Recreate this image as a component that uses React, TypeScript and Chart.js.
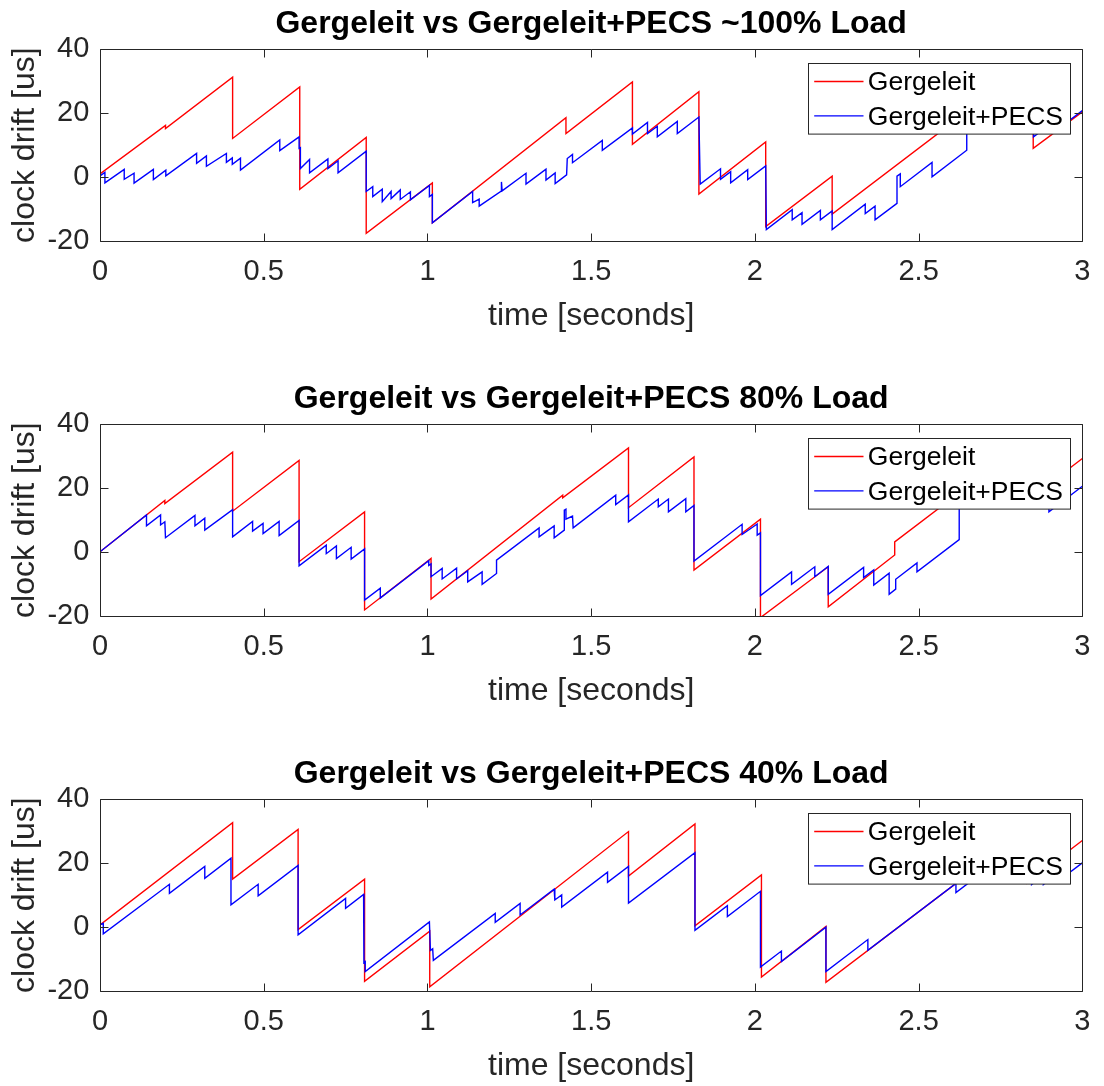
import React, { useEffect, useRef } from 'react';
import { Chart, registerables } from 'chart.js';

Chart.register(...registerables);

const FONT = '"Liberation Sans", Arial, Helvetica, sans-serif';
const AXIS_COLOR = '#262626';
Chart.defaults.font.family = FONT;

// ---- tick labels / texts ----
const xTicks = [0, 0.5, 1, 1.5, 2, 2.5, 3];
const yTicks = [-20, 0, 20, 40];
const seriesNames = ['Gergeleit', 'Gergeleit+PECS'];
const seriesColors = ['#ff0000', '#0000ff'];
const panelTitles = [
  'Gergeleit vs Gergeleit+PECS ~100% Load',
  'Gergeleit vs Gergeleit+PECS 80% Load',
  'Gergeleit vs Gergeleit+PECS 40% Load',
];
const xAxisTitle = 'time [seconds]';
const yAxisTitle = 'clock drift [us]';

// ---- ~100% load ----
const load100RedX = [0, 0.2, 0.2, 0.405, 0.405, 0.61, 0.61, 0.813, 0.813, 1.015, 1.015, 1.423, 1.423, 1.626, 1.626, 1.829, 1.829, 2.033, 2.033, 2.236, 2.236, 2.64, 2.64, 2.85, 2.85, 3.0];
const load100RedY = [1.0, 16.2, 15.2, 31.3, 12.1, 28.2, -3.8, 12.4, -17.6, -1.8, -14.3, 18.6, 13.6, 29.8, 10.3, 26.7, -5.3, 11.0, -15.5, 0.3, -11.6, 19.9, 16.9, 33.3, 9.0, 20.4];
const load100BlueX = [0, 0.015, 0.015, 0.074, 0.074, 0.104, 0.104, 0.163, 0.163, 0.201, 0.201, 0.295, 0.295, 0.325, 0.325, 0.386, 0.386, 0.404, 0.404, 0.429, 0.429, 0.549, 0.549, 0.608, 0.608, 0.612, 0.612, 0.64, 0.64, 0.696, 0.696, 0.727, 0.727, 0.813, 0.813, 0.833, 0.833, 0.862, 0.862, 0.889, 0.889, 0.917, 0.917, 0.948, 0.948, 1.006, 1.006, 1.015, 1.015, 1.138, 1.138, 1.158, 1.158, 1.225, 1.226, 1.228, 1.301, 1.301, 1.362, 1.362, 1.39, 1.39, 1.425, 1.427, 1.443, 1.443, 1.534, 1.534, 1.626, 1.626, 1.672, 1.672, 1.702, 1.702, 1.763, 1.763, 1.829, 1.833, 1.895, 1.895, 1.926, 1.926, 1.978, 1.978, 2.033, 2.035, 2.114, 2.114, 2.144, 2.144, 2.2, 2.2, 2.236, 2.236, 2.337, 2.337, 2.367, 2.367, 2.434, 2.434, 2.444, 2.444, 2.541, 2.541, 2.647, 2.647, 2.75, 2.75, 2.851, 2.851, 2.92, 2.92, 3.0];
const load100BlueY = [0.4, 1.5, -1.8, 2.4, -0.7, 1.2, -1.9, 2.4, -0.8, 2.2, 0.4, 7.4, 4.3, 6.6, 3.4, 7.4, 4.6, 6.0, 4.0, 5.9, 2.2, 11.6, 8.3, 12.6, 9.0, 9.2, 2.7, 5.5, 1.35, 5.7, 2.7, 5.1, 1.35, 8.1, -4.5, -3.0, -6.1, -3.8, -7.7, -4.5, -6.7, -4.0, -7.0, -4.6, -7.1, -2.6, -6.1, -5.4, -14.3, -4.5, -8.0, -6.9, -9.1, -4.4, -1.5, -4.3, 1.2, -2.2, 2.5, -0.9, 1.3, -2.0, 0.7, 5.8, 7.1, 4.5, 11.5, 8.4, 15.4, 13.5, 17.1, 13.6, 15.9, 12.6, 17.4, 13.6, 18.8, -2.2, 2.6, -0.7, 1.7, -1.8, 2.3, -0.8, 3.5, -16.4, -10.2, -13.4, -11.1, -14.8, -10.4, -13.4, -10.6, -16.4, -8.5, -11.4, -9.1, -13.4, -8.2, 0.3, 1.0, -3.0, 4.6, 0.1, 8.4, 17, 25.0, 14.5, 22.4, 12.6, 18.0, 14.6, 20.8];

// ---- 80% load ----
const load80RedX = [0, 0.198, 0.198, 0.405, 0.405, 0.608, 0.608, 0.808, 0.808, 1.011, 1.011, 1.413, 1.413, 1.614, 1.614, 1.814, 1.814, 2.017, 2.017, 2.224, 2.224, 2.427, 2.427, 2.83, 2.83, 3.0];
const load80RedY = [0.1, 16.2, 15.2, 31.3, 12.8, 28.7, -3.0, 12.6, -18.1, -2.0, -14.7, 17.8, 17.0, 32.6, 13.9, 29.8, -5.6, 10.3, -20.5, -4.6, -17.1, -0.9, 3.2, 34.6, 16.0, 29.3];
const load80BlueX = [0, 0.142, 0.142, 0.185, 0.185, 0.198, 0.2, 0.29, 0.29, 0.32, 0.32, 0.405, 0.405, 0.466, 0.466, 0.498, 0.498, 0.547, 0.547, 0.608, 0.608, 0.691, 0.691, 0.722, 0.722, 0.767, 0.767, 0.808, 0.808, 0.856, 0.856, 1.004, 1.004, 1.011, 1.011, 1.045, 1.045, 1.089, 1.089, 1.123, 1.123, 1.167, 1.167, 1.211, 1.211, 1.341, 1.341, 1.387, 1.387, 1.418, 1.418, 1.423, 1.423, 1.443, 1.445, 1.575, 1.575, 1.614, 1.614, 1.705, 1.705, 1.736, 1.736, 1.789, 1.789, 1.814, 1.814, 1.961, 1.961, 2.007, 2.007, 2.017, 2.017, 2.112, 2.112, 2.183, 2.183, 2.224, 2.224, 2.332, 2.332, 2.363, 2.363, 2.41, 2.41, 2.43, 2.43, 2.495, 2.495, 2.624, 2.624, 2.76, 2.76, 2.898, 2.898, 3.0];
const load80BlueY = [0.1, 11.6, 8.2, 11.6, 8.5, 9.5, 4.5, 11.5, 8.2, 10.6, 6.9, 13.3, 4.8, 9.6, 6.6, 9.0, 5.8, 9.6, 5.2, 9.9, -4.3, 2.2, -0.5, 1.9, -2.0, 1.5, -2.2, 1.0, -15.0, -11.3, -14.4, -2.7, -4.2, -3.7, -7.7, -5.1, -8.4, -5.0, -8.4, -5.8, -9.3, -6.2, -10.1, -6.7, -2.5, 7.6, 4.8, 8.2, 4.5, 6.9, 13.1, 13.4, 10.3, 11.3, 7.6, 17.8, 14.9, 17.9, 9.5, 16.6, 14.2, 16.6, 12.6, 16.7, 12.6, 14.6, -2.8, 8.7, 5.5, 8.8, 5.3, 6.0, -13.6, -6.2, -10.1, -4.6, -7.7, -4.5, -13.2, -4.8, -8.0, -5.6, -10.3, -6.6, -13.2, -11.6, -8.5, -3.4, -6.2, 3.9, 16.0, 26.6, 15.0, 25.8, 12.6, 20.6];

// ---- 40% load ----
const load40RedX = [0, 0.405, 0.405, 0.605, 0.605, 0.808, 0.808, 1.007, 1.007, 1.614, 1.614, 1.817, 1.817, 2.02, 2.02, 2.217, 2.217, 2.83, 2.83, 3.0];
const load40RedY = [0.7, 32.7, 15.0, 30.6, -0.8, 15.0, -17.0, -1.3, -18.7, 29.9, 16.0, 32.3, 0.4, 16.3, -15.6, 0.2, -17.3, 30.5, 13.8, 27.1];
const load40BlueX = [0, 0.01, 0.01, 0.212, 0.212, 0.32, 0.32, 0.4, 0.4, 0.483, 0.483, 0.605, 0.605, 0.75, 0.75, 0.805, 0.806, 0.81, 0.81, 1.006, 1.009, 1.016, 1.018, 1.207, 1.207, 1.283, 1.283, 1.387, 1.389, 1.41, 1.41, 1.55, 1.55, 1.614, 1.614, 1.817, 1.817, 1.916, 1.916, 2.017, 2.017, 2.081, 2.081, 2.217, 2.217, 2.345, 2.345, 2.614, 2.614, 2.75, 2.75, 2.845, 2.845, 2.881, 2.881, 2.92, 2.92, 3.0];
const load40BlueY = [0.7, 1.2, -2.1, 13.4, 10.6, 19.0, 15.3, 21.6, 7.0, 13.4, 9.8, 19.3, -2.4, 9.0, 5.9, 10.2, -11.1, -10.8, -13.9, 1.6, -7.3, -6.8, -10.4, 4.3, 1.5, 7.4, 3.8, 11.9, 8.5, 10.1, 6.25, 17.2, 14.0, 19.0, 7.5, 23.3, -1.0, 6.7, 3.3, 11.2, -12.5, -7.5, -10.8, 0.0, -13.9, -3.9, -7.3, 13.7, 10.8, 21.4, 14.0, 21.4, 13.3, 16.1, 13.3, 16.3, 13.9, 20.1];

const panels = [
  { title: panelTitles[0], redX: load100RedX, redY: load100RedY, blueX: load100BlueX, blueY: load100BlueY },
  { title: panelTitles[1], redX: load80RedX, redY: load80RedY, blueX: load80BlueX, blueY: load80BlueY },
  { title: panelTitles[2], redX: load40RedX, redY: load40RedY, blueX: load40BlueX, blueY: load40BlueY },
];

const CANVAS_W = 1104;
const CANVAS_H = 375;

function zip(xs: number[], ys: number[]) {
  const n = Math.min(xs.length, ys.length);
  const out: { x: number; y: number }[] = [];
  for (let i = 0; i < n; i++) out.push({ x: xs[i], y: ys[i] });
  return out;
}

const framePlugin = {
  id: 'matlabFrame',
  afterDatasetsDraw(chart: any) {
    const { ctx, chartArea: a, scales } = chart;
    const L = Math.round(a.left) + 0.5;
    const R = Math.round(a.right) + 0.5;
    const T = Math.round(a.top) + 0.5;
    const B = Math.round(a.bottom) + 0.5;
    const tick = 8;
    ctx.save();
    ctx.strokeStyle = AXIS_COLOR;
    ctx.lineWidth = 1;
    ctx.beginPath();
    ctx.rect(L, T, R - L, B - T);
    xTicks.forEach((v) => {
      const px = Math.round(scales.x.getPixelForValue(v)) + 0.5;
      ctx.moveTo(px, B);
      ctx.lineTo(px, B - tick);
      ctx.moveTo(px, T);
      ctx.lineTo(px, T + tick);
    });
    yTicks.forEach((v) => {
      const py = Math.round(scales.y.getPixelForValue(v)) + 0.5;
      ctx.moveTo(L, py);
      ctx.lineTo(L + tick, py);
      ctx.moveTo(R, py);
      ctx.lineTo(R - tick, py);
    });
    ctx.stroke();
    ctx.restore();
  },
};

const boxLegendPlugin = {
  id: 'boxLegend',
  afterDraw(chart: any) {
    const { ctx, chartArea: a } = chart;
    const w = 262;
    const h = 70.6;
    const x0 = Math.round(a.right - 12 - w) + 0.5;
    const y0 = Math.round(a.top + 13.4) + 0.5;
    ctx.save();
    ctx.fillStyle = '#ffffff';
    ctx.fillRect(x0, y0, w, h);
    ctx.strokeStyle = AXIS_COLOR;
    ctx.lineWidth = 1;
    ctx.strokeRect(x0, y0, w, h);
    const rows = [y0 + 18, y0 + 52.3];
    ctx.font = `26.5px ${FONT}`;
    ctx.textBaseline = 'middle';
    ctx.textAlign = 'left';
    chart.data.datasets.forEach((ds: any, i: number) => {
      const yy = rows[i];
      ctx.strokeStyle = ds.borderColor;
      ctx.lineWidth = 1.3;
      ctx.beginPath();
      ctx.moveTo(x0 + 5.7, yy);
      ctx.lineTo(x0 + 55, yy);
      ctx.stroke();
      ctx.fillStyle = '#000000';
      ctx.fillText(ds.label, x0 + 59.3, yy + 1.5);
    });
    ctx.restore();
  },
};

function makeConfig(p: any): any {
  return {
    type: 'line',
    data: {
      datasets: [
        {
          label: seriesNames[0],
          data: zip(p.redX, p.redY),
          borderColor: seriesColors[0],
          borderWidth: 1.4,
          pointRadius: 0,
          fill: false,
          tension: 0,
          order: 2,
        },
        {
          label: seriesNames[1],
          data: zip(p.blueX, p.blueY),
          borderColor: seriesColors[1],
          borderWidth: 1.4,
          pointRadius: 0,
          fill: false,
          tension: 0,
          order: 1,
        },
      ],
    },
    options: {
      animation: false,
      responsive: false,
      maintainAspectRatio: false,
      events: [],
      layout: { padding: { left: 0, right: 20, top: 0, bottom: 0 } },
      scales: {
        x: {
          type: 'linear',
          min: 0,
          max: 3,
          afterBuildTicks: (axis: any) => {
            axis.ticks = xTicks.map((v) => ({ value: v }));
          },
          afterFit: (s: any) => {
            s.height = 134;
          },
          grid: { display: false, drawTicks: false },
          border: { display: false },
          ticks: {
            autoSkip: false,
            maxRotation: 0,
            padding: 13.6,
            color: AXIS_COLOR,
            font: { size: 29 },
            callback: (v: any) => String(v),
          },
          title: {
            display: true,
            text: xAxisTitle,
            color: AXIS_COLOR,
            font: { size: 32 },
            padding: { top: 0, bottom: 39.8 },
          },
        },
        y: {
          type: 'linear',
          min: -20,
          max: 40,
          afterBuildTicks: (axis: any) => {
            axis.ticks = yTicks.map((v) => ({ value: v }));
          },
          afterFit: (s: any) => {
            s.width = 100;
          },
          grid: { display: false, drawTicks: false },
          border: { display: false },
          ticks: {
            padding: 10.7,
            color: AXIS_COLOR,
            font: { size: 29 },
            callback: (v: any) => String(v),
          },
          title: {
            display: true,
            text: yAxisTitle,
            color: AXIS_COLOR,
            font: { size: 32 },
            padding: { top: 5.5, bottom: 0 },
          },
        },
      },
      plugins: {
        legend: { display: false },
        tooltip: { enabled: false },
        title: {
          display: true,
          text: p.title,
          fullSize: false,
          color: '#000000',
          font: { size: 32, weight: 'bold' },
          padding: { top: 4.6, bottom: 6.3 },
        },
      },
    },
    plugins: [framePlugin, boxLegendPlugin],
  };
}

export default function App() {
  const ref0 = useRef<HTMLCanvasElement>(null);
  const ref1 = useRef<HTMLCanvasElement>(null);
  const ref2 = useRef<HTMLCanvasElement>(null);
  const refs = [ref0, ref1, ref2];

  useEffect(() => {
    const charts = panels.map((p, i) => new Chart(refs[i].current as HTMLCanvasElement, makeConfig(p)));
    return () => charts.forEach((c) => c.destroy());
  }, []);

  return (
    <div
      style={{
        position: 'absolute',
        left: 0,
        top: 0,
        width: CANVAS_W,
        height: 1086,
        overflow: 'hidden',
        background: '#ffffff',
      }}
    >
      {refs.map((r, i) => (
        <canvas
          key={i}
          ref={r}
          width={CANVAS_W}
          height={CANVAS_H}
          style={{ position: 'absolute', left: 0, top: i * CANVAS_H, width: CANVAS_W, height: CANVAS_H, display: 'block' }}
        />
      ))}
    </div>
  );
}
